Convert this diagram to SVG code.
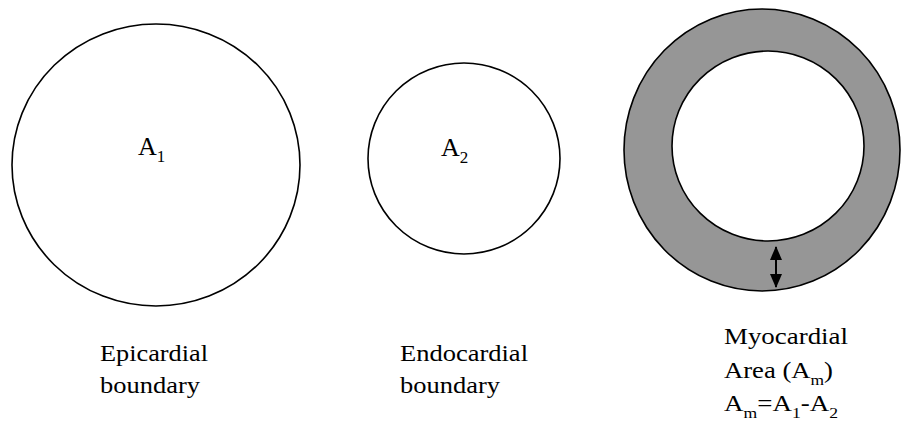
<svg xmlns="http://www.w3.org/2000/svg" width="905" height="423" viewBox="0 0 905 423">
  <defs>
    <style>
      .outline { stroke: #000; stroke-width: 1.6; }
      text { font-family: 'Liberation Serif', 'DejaVu Serif', serif; font-size: 23px; fill: #000; }
      .sub { font-size: 15px; }
      .big { font-size: 26px; }
      .big .sub { font-size: 17px; }
    </style>
    <marker id="head" viewBox="0 0 14 12" refX="13" refY="6" markerWidth="14" markerHeight="12" markerUnits="userSpaceOnUse" orient="auto-start-reverse">
      <path d="M0,0 L14,6 L0,12 Z" fill="#000"/>
    </marker>
  </defs>
  <rect width="905" height="423" fill="#fff"/>

  <!-- outer wall -->
  <g id="epicardial">
    <ellipse class="outline" cx="156" cy="165" rx="144" ry="141" fill="#fff"/>
    <text class="big" x="138" y="155">A<tspan class="sub" dy="7">1</tspan></text>
    <text x="100" y="361" textLength="108" lengthAdjust="spacingAndGlyphs">Epicardial</text>
    <text x="100" y="393" textLength="100" lengthAdjust="spacingAndGlyphs">boundary</text>
  </g>

  <!-- inner wall -->
  <g id="endocardial">
    <ellipse class="outline" cx="464" cy="158.5" rx="96" ry="95.5" fill="#fff"/>
    <text class="big" x="441" y="156">A<tspan class="sub" dy="7">2</tspan></text>
    <text x="400" y="361" textLength="128" lengthAdjust="spacingAndGlyphs">Endocardial</text>
    <text x="400" y="393" textLength="100" lengthAdjust="spacingAndGlyphs">boundary</text>
  </g>

  <!-- ring between the two walls -->
  <g id="myocardial">
    <ellipse class="outline" cx="762" cy="150" rx="138" ry="141" fill="#969696"/>
    <ellipse class="outline" cx="768" cy="146" rx="96" ry="95" fill="#fff"/>
    <text x="724" y="344" textLength="124" lengthAdjust="spacingAndGlyphs">Myocardial</text>
    <text x="724" y="378" textLength="109" lengthAdjust="spacingAndGlyphs">Area (A<tspan class="sub" dy="7">m</tspan><tspan dy="-7">)</tspan></text>
    <text x="724" y="411" textLength="114" lengthAdjust="spacingAndGlyphs">A<tspan class="sub" dy="7">m</tspan><tspan dy="-7">=A</tspan><tspan class="sub" dy="7">1</tspan><tspan dy="-7">-A</tspan><tspan class="sub" dy="7">2</tspan></text>
  </g>

  <g id="connectors">
    <line x1="776" y1="247" x2="776" y2="287" stroke="#000" stroke-width="2" marker-start="url(#head)" marker-end="url(#head)"/>
  </g>
</svg>
